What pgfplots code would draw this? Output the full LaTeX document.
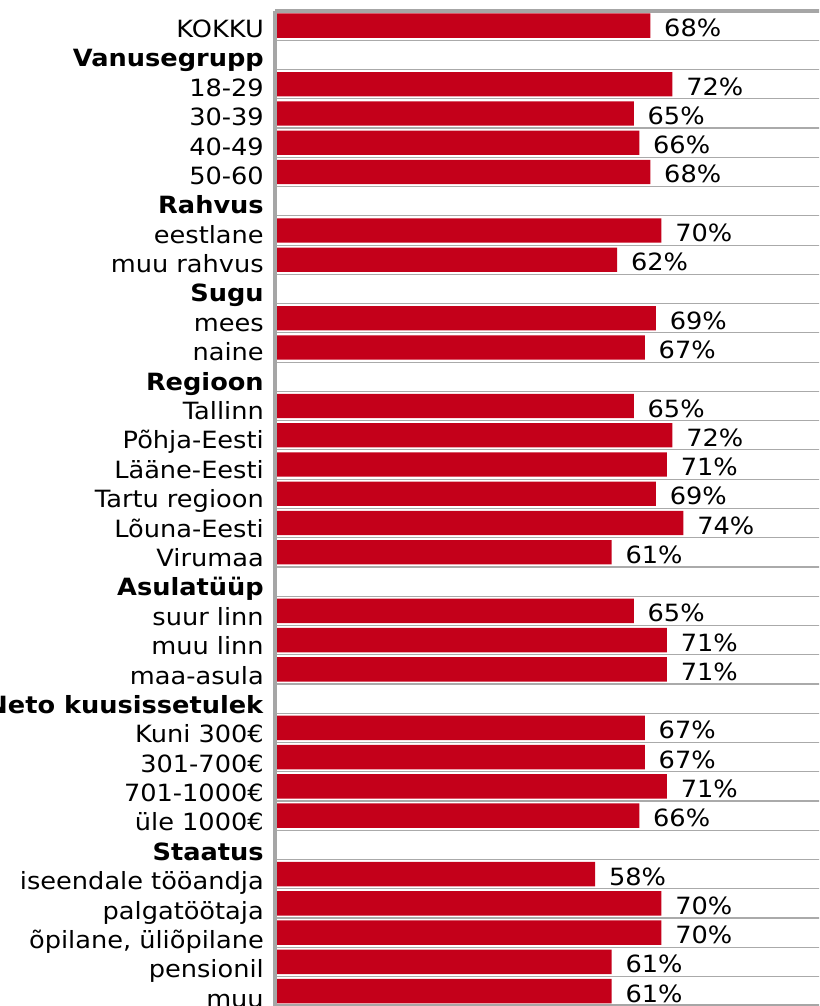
\documentclass[border=0pt]{standalone}
\usepackage{fontspec}
\setmainfont{DejaVu Sans}[FakeStretch=1.08]
\usepackage{pgfplots}
\pgfplotsset{compat=1.18}
\definecolor{barred}{RGB}{196,0,26}
\definecolor{framegray}{RGB}{166,166,166}
\definecolor{gridgray}{RGB}{170,170,170}
\begin{document}
\begin{tikzpicture}
\useasboundingbox (0,0) rectangle (614.25pt,754.5pt);
\clip (0,0) rectangle (614.25pt,754.5pt);
\begin{axis}[
  at={(206.25pt,0.2pt)}, anchor=south west,
  scale only axis,
  width=414pt, height=746pt,
  xbar, bar width=18.3pt,
  xmin=0, xmax=100,
  ymin=-0.5, ymax=33.5,
  y dir=reverse,
  xtick=\empty,
  ytick={0,1.0045,2.009,3.0135,4.018,5.0225,6.027,7.0315,8.036,9.0405,10.045,11.0495,12.054,13.0585,14.063,15.0675,16.072,17.0765,18.081,19.0855,20.09,21.0945,22.099,23.1035,24.108,25.1125,26.117,27.1215,28.126,29.1305,30.135,31.1395,32.144,33.1485},
  yticklabels={KOKKU,\textbf{Vanusegrupp},18-29,30-39,40-49,50-60,\textbf{Rahvus},eestlane,muu rahvus,\textbf{Sugu},mees,naine,\textbf{Regioon},Tallinn,Põhja-Eesti,Lääne-Eesti,Tartu regioon,Lõuna-Eesti,Virumaa,\textbf{Asulatüüp},suur linn,muu linn,maa-asula,\textbf{Neto kuusissetulek},Kuni 300€,301-700€,701-1000€,üle 1000€,\textbf{Staatus},iseendale tööandja,palgatöötaja,{õpilane, üliõpilane},pensionil,muu},
  minor ytick={0.5,1.5,...,32.5},
  yminorgrids=true,
  minor grid style={gridgray, line width=0.9pt},
  major tick length=0pt, minor tick length=0pt,
  axis line style={draw=none},
  y tick label style={font=\fontsize{17.8}{20}\selectfont, anchor=base east, inner sep=0pt, xshift=-8.25pt, yshift=-8.85pt},
  /pgf/number format/assume math mode=true,
  nodes near coords={\pgfmathprintnumber{\pgfplotspointmeta}\%},
  every node near coord/.append style={font=\fontsize{17.8}{20}\selectfont, anchor=base west, inner sep=0pt, xshift=10.2pt, yshift=-8.25pt, text=black},
  clip=false,
]
\addplot[fill=barred, draw=none] coordinates {
(68,0) (72,2) (65,3) (66,4) (68,5) (70,7) (62,8) (69,10) (67,11) (65,13) (72,14) (71,15) (69,16) (74,17) (61,18) (65,20) (71,21) (71,22) (67,24) (67,25) (71,26) (66,27) (58,29) (70,30) (70,31) (61,32) (61,33)
};
\draw[framegray, line width=2.6pt] (rel axis cs:0,0) -- (rel axis cs:0,1);
\draw[framegray, line width=2.6pt] (rel axis cs:0,1) -- (rel axis cs:1,1);
\draw[framegray, line width=2.6pt] (rel axis cs:0,0) -- (rel axis cs:1,0);
\end{axis}
\end{tikzpicture}
\end{document}
